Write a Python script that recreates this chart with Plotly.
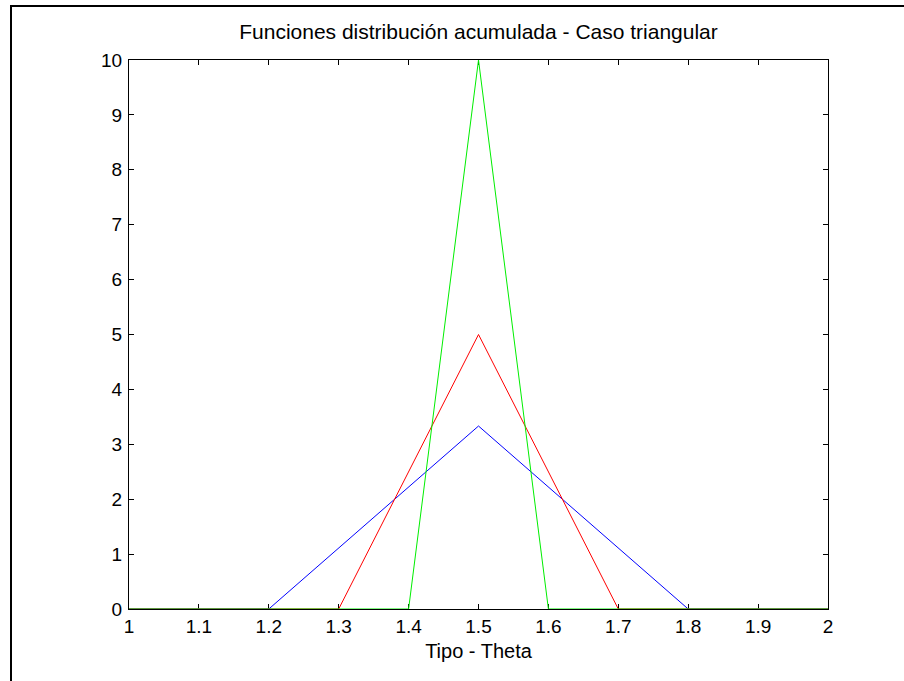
import plotly.graph_objects as go

# Data: triangular densities (vertex points)
x_blue = [1.0, 1.2, 1.5, 1.8, 2.0]
y_blue = [0, 0, 3.333, 0, 0]
x_red = [1.0, 1.3, 1.5, 1.7, 2.0]
y_red = [0, 0, 5.0, 0, 0]
x_green = [1.0, 1.4, 1.5, 1.6, 2.0]
y_green = [0, 0, 10.0, 0, 0]

x_ticks = [1, 1.1, 1.2, 1.3, 1.4, 1.5, 1.6, 1.7, 1.8, 1.9, 2]
x_ticklabels = ["1", "1.1", "1.2", "1.3", "1.4", "1.5", "1.6", "1.7", "1.8", "1.9", "2"]
y_ticks = list(range(0, 11))

FONT = "Liberation Sans, Arial, Helvetica, sans-serif"

fig = go.Figure()
fig.add_trace(go.Scatter(x=x_blue, y=y_blue, mode="lines",
                         line=dict(color="#0000ff", width=1), showlegend=False))
fig.add_trace(go.Scatter(x=x_red, y=y_red, mode="lines",
                         line=dict(color="#ff0000", width=1), showlegend=False))
fig.add_trace(go.Scatter(x=x_green, y=y_green, mode="lines",
                         line=dict(color="#00ee00", width=1), showlegend=False))

axis_common = dict(
    showgrid=False, zeroline=False, showline=True, linecolor="black", linewidth=1,
    mirror="ticks", ticks="inside", ticklen=5, tickwidth=1, tickcolor="black",
    tickfont=dict(family=FONT, size=19, color="black"),
    layer="below traces",
)

fig.update_layout(
    width=904, height=681,
    margin=dict(l=129, r=76, t=60, b=72),
    paper_bgcolor="white", plot_bgcolor="white",
    title=dict(text="Funciones distribución acumulada - Caso triangular",
               x=(129 + 828) / 2 / 904, xanchor="center", y=1 - 32 / 681, yanchor="middle",
               font=dict(family=FONT, size=21, color="black")),
    xaxis=dict(range=[1, 2], tickvals=x_ticks, ticktext=x_ticklabels,
               title=dict(text="Tipo - Theta", font=dict(family=FONT, size=20, color="black"),
                          standoff=8),
               **axis_common),
    yaxis=dict(range=[0, 10], tickvals=y_ticks, ticklabelstandoff=2, **axis_common),
    shapes=[dict(type="rect", xref="paper", yref="paper",
                 x0=(11 - 129) / 699, x1=2.0, y0=-1.0, y1=(609 - 6) / 549,
                 line=dict(color="black", width=2), fillcolor="rgba(0,0,0,0)",
                 layer="above")],
)

fig.write_html("out.html")
